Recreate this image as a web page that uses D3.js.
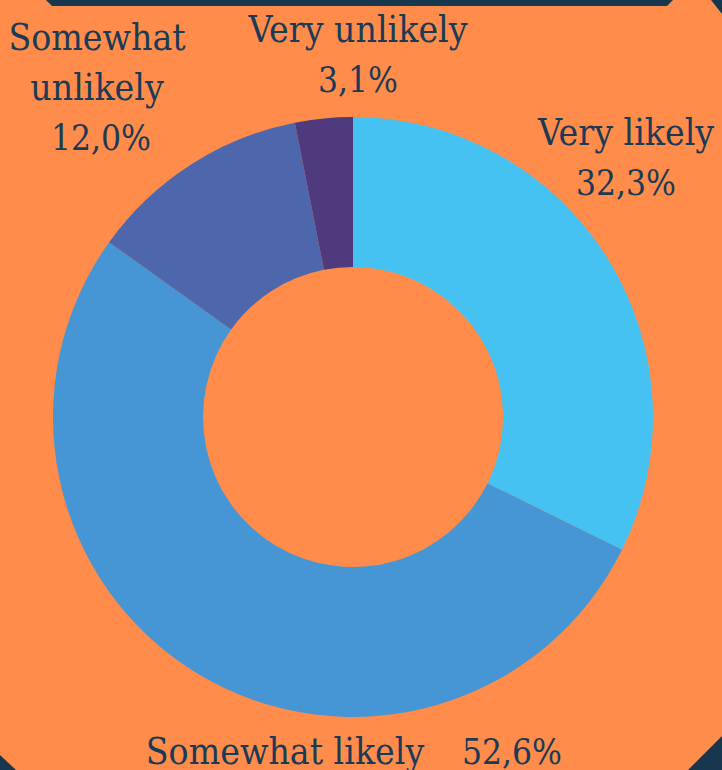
<!DOCTYPE html>
<html>
<head>
<meta charset="utf-8">
<script src="https://cdn.jsdelivr.net/npm/d3@7"></script>
<style>
    body { margin: 0; background: #ff8c4a; }
    svg { display: block; }
    .label { font-family: "DejaVu Serif Condensed", "DejaVu Serif", serif; font-size: 37px; fill: #1a3a56; }
    .num { font-size: 35px; }
</style>
</head>
<body>
<div id="chart"></div>
<script>
// chart data
var categories = ["Very likely", "Somewhat likely", "Somewhat unlikely", "Very unlikely"];
var values = [32.3, 52.6, 12.0, 3.1];
var valueLabels = ["32,3%", "52,6%", "12,0%", "3,1%"];
var colours = ["#45c2f2", "#4695d4", "#4e66ab", "#4e3a7c"];

function init() {
    var w = 722;
    var h = 770;
    var cx = 353, cy = 417;
    var outerR = 300, innerR = 150;

    var svg = d3.select("#chart")
        .append("svg")
        .attr("width", w)
        .attr("height", h);

    svg.append("rect")
        .attr("width", w)
        .attr("height", h)
        .attr("fill", "#ff8c4a");

    // navy decorations around the edges
    var deco = [
        [[46, 0], [673, 0], [667, 6], [52, 6]],
        [[711, 0], [722, 0], [722, 14]],
        [[0, 755], [0, 770], [16, 770]],
        [[722, 736], [722, 770], [688, 770]]
    ];
    svg.selectAll(".deco")
        .data(deco)
        .enter()
        .append("polygon")
        .attr("class", "deco")
        .attr("points", function(d) { return d.join(" "); })
        .attr("fill", "#17374f");

    var pie = d3.pie().sort(null).value(function(d) { return d; });
    var arc = d3.arc().innerRadius(innerR).outerRadius(outerR);

    var g = svg.append("g")
        .attr("transform", "translate(" + cx + "," + cy + ")");

    g.selectAll("path")
        .data(pie(values))
        .enter()
        .append("path")
        .attr("d", arc)
        .attr("fill", function(d, i) { return colours[i]; });

    // label placement (lines of text, anchor x, first baseline)
    var labelLayout = [
        { lines: ["Very likely", valueLabels[0]], x: 626, y: 145 },
        { lines: ["Somewhat likely", valueLabels[1]], x: 285, y: 764, inline: 512 },
        { lines: ["Somewhat", "unlikely", valueLabels[2]], x: 97, y: 50 },
        { lines: ["Very unlikely", valueLabels[3]], x: 358, y: 42 }
    ];

    labelLayout.forEach(function(l) {
        if (l.inline) {
            svg.append("text").attr("class", "label")
                .attr("x", l.x).attr("y", l.y)
                .attr("text-anchor", "middle")
                .text(l.lines[0]);
            svg.append("text").attr("class", "label num")
                .attr("x", l.inline).attr("y", l.y)
                .attr("text-anchor", "middle")
                .text(l.lines[1]);
        } else {
            var t = svg.append("text").attr("class", "label")
                .attr("text-anchor", "middle");
            l.lines.forEach(function(s, k) {
                t.append("tspan")
                    .attr("x", k === l.lines.length - 1 ? l.x + (l.lines.length === 3 ? 4 : 0) : l.x)
                    .attr("y", l.y + k * 50)
                    .attr("class", k === l.lines.length - 1 ? "num" : null)
                    .text(s);
            });
        }
    });
}
window.onload = init;
</script>
</body>
</html>
